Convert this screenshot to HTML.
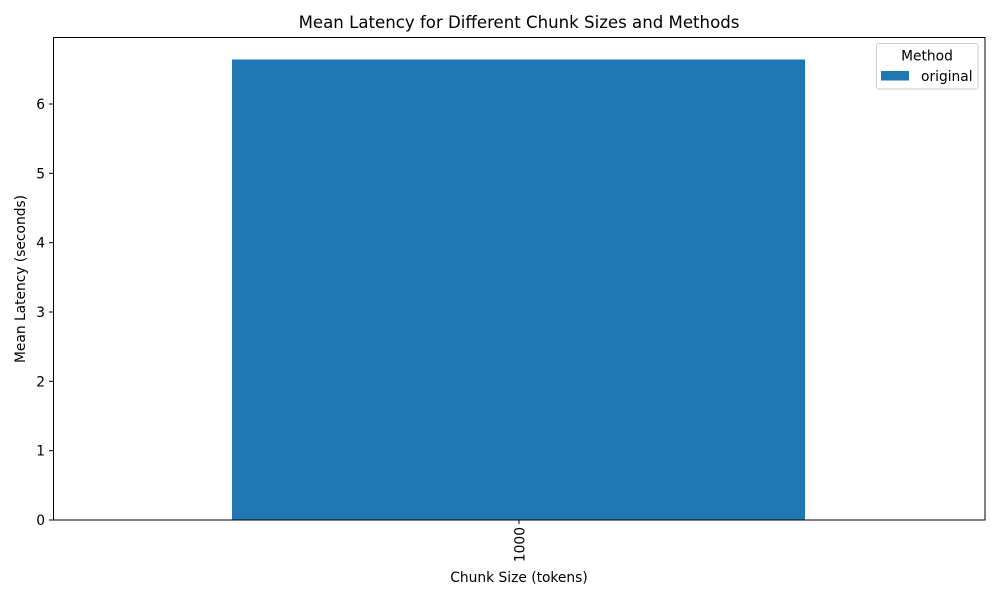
<!DOCTYPE html>
<html><head><meta charset="utf-8"><style>
html,body{margin:0;padding:0;background:#fff;}
svg{display:block;font-family:"DejaVu Sans","Liberation Sans",sans-serif;}
</style></head><body>
<svg width="1000" height="600" viewBox="0 0 1000 600" xmlns="http://www.w3.org/2000/svg">
<rect width="1000" height="600" fill="#fff"/>
<text x="519" y="28" font-size="16.6" text-anchor="middle" fill="#000">Mean Latency for Different Chunk Sizes and Methods</text>
<rect x="232" y="59.5" width="573" height="460.5" fill="#1f77b4"/>
<rect x="53.5" y="37.5" width="931.5" height="482.5" fill="none" stroke="#000" stroke-width="1"/>
<g stroke="#000" stroke-width="1">
<line x1="49" y1="520" x2="53" y2="520"/>
<line x1="49" y1="450.7" x2="53" y2="450.7"/>
<line x1="49" y1="381.3" x2="53" y2="381.3"/>
<line x1="49" y1="312" x2="53" y2="312"/>
<line x1="49" y1="242.7" x2="53" y2="242.7"/>
<line x1="49" y1="173.3" x2="53" y2="173.3"/>
<line x1="49" y1="104" x2="53" y2="104"/>
<line x1="519" y1="520" x2="519" y2="524"/>
</g>
<g font-size="13.8" fill="#000" text-anchor="end">
<text x="45" y="525">0</text>
<text x="45" y="455.7">1</text>
<text x="45" y="386.3">2</text>
<text x="45" y="317">3</text>
<text x="45" y="247.7">4</text>
<text x="45" y="178.3">5</text>
<text x="45" y="109">6</text>
</g>
<text transform="translate(524.5,527) rotate(-90)" font-size="13.8" text-anchor="end" fill="#000">1000</text>
<text x="519" y="582" font-size="13.8" text-anchor="middle" fill="#000">Chunk Size (tokens)</text>
<text transform="translate(25,279) rotate(-90)" font-size="13.8" text-anchor="middle" fill="#000">Mean Latency (seconds)</text>
<rect x="876.5" y="43.5" width="101.5" height="45.5" rx="2.5" fill="#fff" fill-opacity="0.8" stroke="#ccc" stroke-width="1"/>
<text x="927" y="60.5" font-size="13.8" text-anchor="middle" fill="#000">Method</text>
<rect x="881" y="71" width="28" height="9.5" fill="#1f77b4"/>
<text x="921" y="81" font-size="13.8" fill="#000">original</text>
</svg>
</body></html>
